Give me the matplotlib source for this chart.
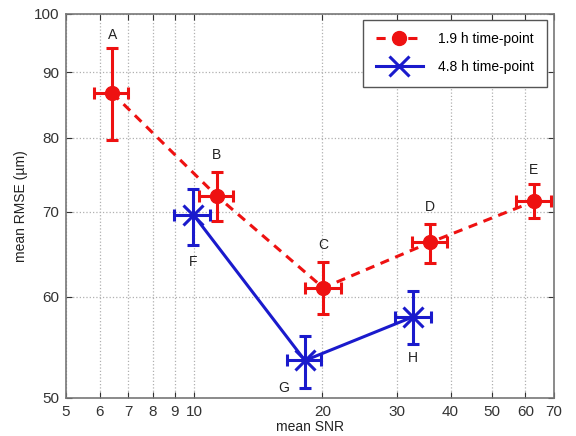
import matplotlib as mpl
mpl.use('Agg')
import matplotlib.pyplot as plt
from matplotlib.lines import Line2D
from matplotlib.ticker import FixedLocator, FixedFormatter, NullLocator

plt.rcParams['font.family'] = ['Liberation Sans', 'DejaVu Sans']

# 1.9 h time-point (A-E)
snr_19 = [6.42, 11.3, 20.1, 35.8, 62.8]
snr_19_lo = [5.83, 10.27, 18.2, 32.5, 57.0]
snr_19_hi = [7.0, 12.36, 22.1, 39.2, 68.8]
rmse_19 = [86.7, 72.0, 61.0, 66.2, 71.3]
rmse_19_lo = [79.7, 68.8, 58.2, 63.8, 69.2]
rmse_19_hi = [94.0, 75.2, 63.9, 68.5, 73.6]
labels_19 = ['A', 'B', 'C', 'D', 'E']

# 4.8 h time-point (F-H)
snr_48 = [9.96, 18.2, 32.7]
snr_48_lo = [8.97, 16.5, 29.7]
snr_48_hi = [10.9, 19.9, 36.0]
rmse_48 = [69.6, 53.5, 57.9]
rmse_48_lo = [65.9, 50.9, 55.1]
rmse_48_hi = [72.9, 55.9, 60.7]
labels_48 = ['F', 'G', 'H']

xticks = [5, 6, 7, 8, 9, 10, 20, 30, 40, 50, 60, 70]
yticks = [50, 60, 70, 80, 90, 100]


def errs(v, lo, hi):
    return [[a - b for a, b in zip(v, lo)], [c - a for a, c in zip(v, hi)]]


fig = plt.figure(figsize=(5.76, 4.36), dpi=100)
ax = fig.add_axes([0.1146, 0.0872, 0.8472, 0.8808])
ax.set_xscale('log')
ax.set_yscale('log')

red = '#ee1111'
blue = '#1a1acc'
ax.errorbar(snr_19, rmse_19, xerr=errs(snr_19, snr_19_lo, snr_19_hi),
            yerr=errs(rmse_19, rmse_19_lo, rmse_19_hi),
            color=red, ls='--', lw=2.2, dashes=(3, 2.2), marker='o', ms=10,
            elinewidth=2.2, capsize=4, capthick=2.2, zorder=3)
ax.errorbar(snr_48, rmse_48, xerr=errs(snr_48, snr_48_lo, snr_48_hi),
            yerr=errs(rmse_48, rmse_48_lo, rmse_48_hi),
            color=blue, ls='-', lw=2.2, marker='x', ms=14, mew=2.2,
            elinewidth=2.2, capsize=4, capthick=2.2, zorder=3)

# label offsets in pixels from each point
off_19 = [(0, 58), (0, 41), (0, 43), (0, 35), (0, 31)]
off_48 = [(0, -47), (-21, -28), (0, -41)]
for x, y, t, off in zip(snr_19 + snr_48, rmse_19 + rmse_48,
                        labels_19 + labels_48, off_19 + off_48):
    ax.annotate(t, (x, y), xytext=off, textcoords='offset pixels',
                ha='center', va='center', fontsize=10, color='#222222')

ax.set_xlim(5, 70)
ax.set_ylim(50, 100)
ax.xaxis.set_major_locator(FixedLocator(xticks))
ax.xaxis.set_major_formatter(FixedFormatter([str(t) for t in xticks]))
ax.xaxis.set_minor_locator(NullLocator())
ax.yaxis.set_major_locator(FixedLocator(yticks))
ax.yaxis.set_major_formatter(FixedFormatter([str(t) for t in yticks]))
ax.yaxis.set_minor_locator(NullLocator())
ax.grid(True, ls=':', color='#b0b0b0', lw=0.9)
ax.tick_params(direction='in', top=True, right=True, labelsize=11, colors='#333333',
               length=4, pad=5)
for s in ax.spines.values():
    s.set_color('#777777')
    s.set_linewidth(1.2)

ax.set_xlabel('mean SNR', fontsize=10, color='#222222', labelpad=1)
ax.set_ylabel('mean RMSE (\u00b5m)', fontsize=10, color='#222222', labelpad=4)

handles = [
    Line2D([], [], color=red, ls='--', lw=2.2, dashes=(3, 2.2), marker='o', ms=10),
    Line2D([], [], color=blue, ls='-', lw=2.2, marker='x', ms=14, mew=2.2),
]
leg = ax.legend(handles, ['1.9 h time-point', '4.8 h time-point'],
                loc='upper right', fontsize=10, fancybox=False, framealpha=1,
                edgecolor='#555555', borderpad=0.9, labelspacing=1.0, handlelength=3.4,
                handletextpad=1.1, borderaxespad=0, bbox_to_anchor=(0.985, 0.985))
leg.get_frame().set_linewidth(1.0)

fig.savefig('out.png', dpi=100)
